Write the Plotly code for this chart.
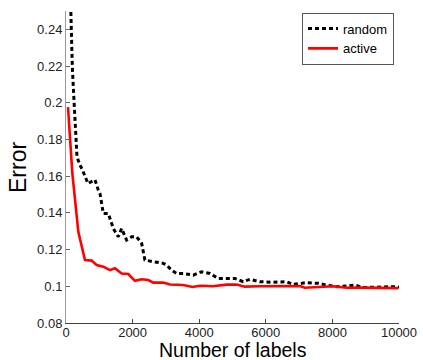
import plotly.graph_objects as go

random_x = [100, 190, 240, 300, 330, 420, 480, 660, 870, 970, 1020, 1120, 1270, 1420, 1570,
            1670, 1820, 1970, 2120, 2270, 2370, 2620, 2920, 3020, 3170, 3320, 3520, 3820,
            4070, 4320, 4570, 4820, 5070, 5320, 5520, 5820, 6220, 6620, 6820, 7220, 7570,
            7820, 8120, 8420, 8670, 8920, 9420, 9820, 10000]
random_y = [0.28, 0.2195, 0.2014, 0.180, 0.1705, 0.166, 0.164, 0.156, 0.158, 0.1524, 0.1506,
            0.1397, 0.1397, 0.1315, 0.127, 0.1315, 0.1252, 0.127, 0.127, 0.1235, 0.1143,
            0.1134, 0.1125, 0.1116, 0.1088, 0.107, 0.107, 0.1061, 0.1079, 0.107, 0.1043,
            0.1043, 0.1043, 0.1025, 0.1038, 0.1025, 0.1022, 0.1025, 0.101, 0.102, 0.1016,
            0.1007, 0.0998, 0.1001, 0.1007, 0.0993, 0.0998, 0.0998, 0.0995]

active_x = [60, 190, 370, 570, 770, 920, 1120, 1320, 1470, 1670, 1870, 2070, 2270, 2470,
            2620, 2920, 3120, 3520, 3800, 4020, 4420, 4820, 5120, 5370, 5820, 6320, 7020,
            7170, 7620, 8020, 8420, 8820, 9970]
active_y = [0.1976, 0.1616, 0.1297, 0.1143, 0.114, 0.1116, 0.1107, 0.1088, 0.1098, 0.107,
            0.1067, 0.103, 0.1038, 0.1034, 0.102, 0.102, 0.101, 0.1007, 0.0996, 0.1003,
            0.100, 0.1009, 0.101, 0.0998, 0.100, 0.100, 0.1001, 0.0992, 0.0998, 0.100,
            0.0992, 0.0993, 0.099]

x_ticks = [0, 2000, 4000, 6000, 8000, 10000]
x_tick_labels = ["0", "2000", "4000", "6000", "8000", "10000"]
y_ticks = [0.08, 0.1, 0.12, 0.14, 0.16, 0.18, 0.2, 0.22, 0.24]
y_tick_labels = ["0.08", "0.1", "0.12", "0.14", "0.16", "0.18", "0.2", "0.22", "0.24"]
x_title = "Number of labels"
y_title = "Error"

fig = go.Figure()
fig.add_trace(go.Scatter(x=random_x, y=random_y, mode="lines", name="random",
                         line=dict(color="black", width=3, dash="4px,3px")))
fig.add_trace(go.Scatter(x=active_x, y=active_y, mode="lines", name="active",
                         line=dict(color="#ff0000", width=2.6)))

fig.update_layout(
    width=423, height=360,
    margin=dict(l=66, r=24, t=11, b=37, autoexpand=False),
    paper_bgcolor="white", plot_bgcolor="white",
    font=dict(family="Liberation Sans, Arial", color="#222222", size=13),
    showlegend=True,
    legend=dict(x=0.985, y=0.995, xanchor="right", yanchor="top",
                bgcolor="white", bordercolor="#555555", borderwidth=1,
                font=dict(size=13, color="black"), tracegroupgap=0,
                itemwidth=30),
    annotations=[
        dict(text=x_title, xref="paper", yref="paper", x=0.5, y=-0.048,
             xanchor="center", yanchor="top", showarrow=False, borderpad=0,
             font=dict(size=19.5, color="black")),
        dict(text=y_title, xref="paper", yref="paper", x=-0.144, y=0.497,
             xanchor="center", yanchor="middle", textangle=-90, showarrow=False,
             font=dict(size=23, color="black")),
    ],
)
fig.update_xaxes(range=[0, 10000], tickvals=x_ticks, ticktext=x_tick_labels,
                 showgrid=False, zeroline=False, automargin=False,
                 showline=True, linecolor="#444444", linewidth=1,
                 ticks="inside", ticklen=4, tickcolor="#444444",
                 ticklabelstandoff=-3)
fig.update_yaxes(range=[0.08, 0.25], tickvals=y_ticks, ticktext=y_tick_labels,
                 showgrid=False, zeroline=False, automargin=False,
                 showline=True, linecolor="#999999", linewidth=1,
                 ticks="inside", ticklen=4, tickcolor="#666666")

fig.write_html("out.html", config={"displayModeBar": False},
               post_script="document.body.style.margin='0';")
